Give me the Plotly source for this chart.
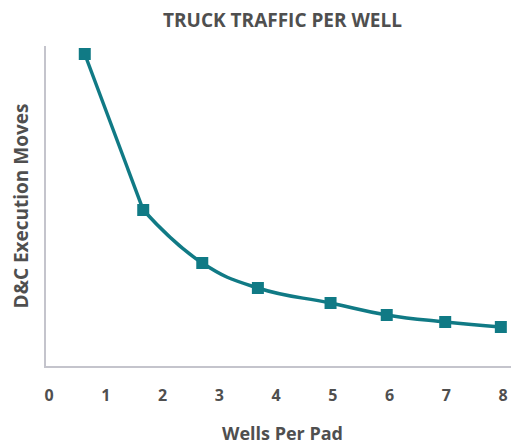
import plotly.graph_objects as go

wells_per_pad = [0.63, 1.66, 2.70, 3.68, 4.96, 5.95, 6.98, 7.96]
execution_moves = [312, 156, 103, 78, 63, 51, 44, 39]
x_ticks = [0, 1, 2, 3, 4, 5, 6, 7, 8]

teal = "#107a85"
grey_text = "#4f4f4f"
axis_grey = "#c4c4cc"
font_family = "'Open Sans', Lato, sans-serif"

# page body has an 8px default margin, so the figure is sized 511x438
W, H = 511, 438

fig = go.Figure()
# first segment is straight, the remainder is a smooth curve
fig.add_trace(go.Scatter(
    x=wells_per_pad[:2], y=execution_moves[:2], mode="lines",
    line=dict(color=teal, width=3.5), hoverinfo="skip", showlegend=False,
))
fig.add_trace(go.Scatter(
    x=wells_per_pad[1:], y=execution_moves[1:], mode="lines",
    line=dict(color=teal, width=3.5, shape="spline", smoothing=1.3),
    hoverinfo="skip", showlegend=False,
))
fig.add_trace(go.Scatter(
    x=wells_per_pad, y=execution_moves, mode="markers",
    marker=dict(symbol="square", size=12, color=teal),
    hoverinfo="skip", showlegend=False,
))

fig.update_layout(
    width=W, height=H,
    margin=dict(l=38, r=0, t=38, b=80),
    paper_bgcolor="white", plot_bgcolor="white",
    font=dict(family=font_family, color=grey_text),
    title=dict(text="<b>TRUCK TRAFFIC PER WELL</b>", x=0.5, xref="paper", xanchor="center",
               y=1 - 12 / H, yanchor="middle",
               font=dict(size=19, color=grey_text, family=font_family)),
)
fig.update_xaxes(
    range=[-0.053, 8.28], tickvals=x_ticks, ticktext=[f"<b>{t}</b>" for t in x_ticks],
    showgrid=False, zeroline=False, showline=True, linecolor=axis_grey, linewidth=2,
    ticks="", ticklabelstandoff=14, tickfont=dict(size=16, color=grey_text),
    automargin=False,
    title=dict(text="<b>Wells Per Pad</b>", font=dict(size=18, color=grey_text), standoff=22),
)
fig.update_yaxes(
    range=[0, 320], showticklabels=False, showgrid=False, zeroline=False,
    showline=True, linecolor=axis_grey, linewidth=2, ticks="",
    automargin=False,
    title=dict(text="<b>D&C Execution Moves</b>", font=dict(size=19, color=grey_text), standoff=12),
)

fig.write_html("out.html")
